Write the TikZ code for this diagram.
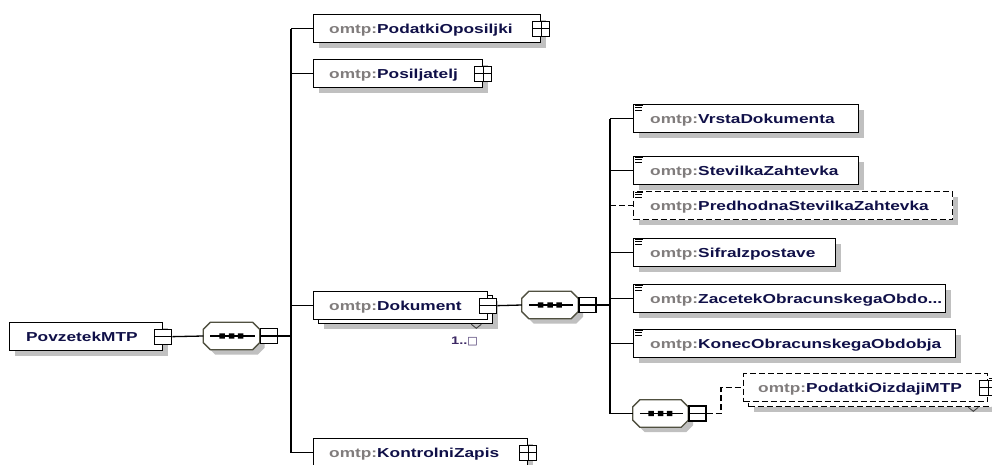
\documentclass[tikz,border=0pt]{standalone}
\usepackage{fontspec}
\newfontfamily\xsdfont[FakeStretch=1.33]{Liberation Sans}
\newfontfamily\symfont{DejaVu Sans}
\usetikzlibrary{shadows}

\definecolor{namecol}{RGB}{16,16,72}
\definecolor{pfxcol}{RGB}{128,124,124}
\definecolor{shadowcol}{RGB}{192,192,192}
\definecolor{seqedge}{RGB}{80,80,64}
\definecolor{occcol}{RGB}{60,40,100}

\newcommand\pfx[1]{\textcolor{pfxcol}{#1}}

% three short strokes in the top left corner of a simple-content element
\newcommand\textmark[1]{%
  \draw[line width=.9pt] ([xshift=2pt,yshift=-1.4pt]#1.north west) -- ++(8pt,0pt)
        ([xshift=2pt,yshift=-3.9pt]#1.north west) -- ++(7pt,0pt)
        ([xshift=2pt,yshift=-6.4pt]#1.north west) -- ++(7pt,0pt);}

% octagonal sequence compositor drawn round a plain rectangle node
\newcommand\seqshape[1]{%
  \fill[shadowcol]
    ([xshift=12pt,yshift=-5pt]#1.north west) -- ([xshift=-2pt,yshift=-5pt]#1.north east)
    -- ([xshift=5pt,yshift=-12pt]#1.north east) -- ([xshift=5pt,yshift=2pt]#1.south east)
    -- ([xshift=-2pt,yshift=-5pt]#1.south east) -- ([xshift=12pt,yshift=-5pt]#1.south west)
    -- ([xshift=5pt,yshift=2pt]#1.south west) -- ([xshift=5pt,yshift=-12pt]#1.north west)
    -- cycle;
  \draw[seqdraw]
    ([xshift=7pt]#1.north west) -- ([xshift=-7pt]#1.north east)
    -- ([yshift=-7pt]#1.north east) -- ([yshift=7pt]#1.south east)
    -- ([xshift=-7pt]#1.south east) -- ([xshift=7pt]#1.south west)
    -- ([yshift=7pt]#1.south west) -- ([yshift=-7pt]#1.north west)
    -- cycle;
  \draw[line width=1.2pt] ([xshift=7pt]#1.west) -- ([xshift=-5pt]#1.east);
  \fill ([xshift=-12.25pt,yshift=-2.6pt]#1.center) rectangle ++(5.5pt,5.2pt)
        ([xshift=-2.75pt,yshift=-2.6pt]#1.center) rectangle ++(5.5pt,5.2pt)
        ([xshift=6.25pt,yshift=-2.6pt]#1.center) rectangle ++(5.5pt,5.2pt);}

\tikzset{
  conn/.style={draw=black, line width=1.3pt},
  optconn/.style={conn, dash pattern=on 6pt off 3pt},
  boxshadow/.style={drop shadow={shadow xshift=5pt, shadow yshift=-5pt,
      opacity=1, fill=shadowcol, draw=none}},
  elbox/.style={rectangle, draw=black, line width=1.3pt, fill=white,
      inner sep=0pt, minimum height=28pt, anchor=north west},
  optbox/.style={elbox, dash pattern=on 6pt off 3pt},
  lbl/.style={inner sep=0pt, anchor=base west, text=namecol,
      font=\xsdfont\bfseries\fontsize{13}{15}\selectfont},
  occ/.style={inner sep=0pt, anchor=base west, text=occcol,
      font=\xsdfont\bfseries\fontsize{11}{13}\selectfont},
  seqnode/.style={rectangle, draw=none, inner sep=0pt,
      minimum width=56pt, minimum height=27pt},
  seqdraw/.style={draw=seqedge, line width=1.3pt, fill=white},
  iconbox/.style={rectangle, draw=black, line width=1.3pt, fill=white,
      inner sep=0pt, minimum width=17pt, minimum height=15pt},
  minusicon/.style={iconbox, path picture={
      \draw[line width=1.1pt] (path picture bounding box.west)
        -- (path picture bounding box.east);}},
  plusicon/.style={iconbox, path picture={
      \draw[line width=1.1pt] (path picture bounding box.west)
        -- (path picture bounding box.east)
        (path picture bounding box.north) -- (path picture bounding box.south);}},
}

\begin{document}
\begin{tikzpicture}[x=1pt,y=-1pt]
\clip (0,0) rectangle (992,464);
\fill[white] (0,0) rectangle (992,464);

% bus lines
\coordinate (bus1) at (291,0);
\coordinate (bus2) at (610,0);
\coordinate (jog) at (721,0);

% root element
\node[elbox, minimum width=153pt, boxshadow] (root) at (9,322) {};
\node[lbl] (root-t) at ([xshift=17pt,yshift=-4.5pt]root.west) {PovzetekMTP};
\node[minusicon] (root-i) at (root.east) {};

% first sequence
\node[seqnode] (seq1) at (231.5,336) {};
\seqshape{seq1}
\node[minusicon, anchor=west] (seq1-i) at (seq1.east) {};
\draw[conn] (root-i.east) -- (seq1.west);

% children of the first sequence
\node[elbox, minimum width=227pt, boxshadow] (pod) at (313,14) {};
\node[lbl] (pod-t) at ([xshift=16pt,yshift=-4.5pt]pod.west) {\pfx{omtp:}PodatkiOposiljki};
\node[plusicon] (pod-i) at (pod.east) {};

\node[elbox, minimum width=169pt, boxshadow] (posi) at (313,59) {};
\node[lbl] (posi-t) at ([xshift=16pt,yshift=-4.5pt]posi.west) {\pfx{omtp:}Posiljatelj};
\node[plusicon] (posi-i) at (posi.east) {};

\node[elbox, minimum width=174pt, boxshadow] (dok-b) at (318,295) {};
\node[elbox, minimum width=174pt] (dok) at (313,291) {};
\node[lbl] (dok-t) at ([xshift=16pt,yshift=-4.5pt]dok.west) {\pfx{omtp:}Dokument};
\node[minusicon] (dok-i) at (dok.east) {};
\draw[line width=.9pt, draw=black!75] ([xshift=-22pt]dok-b.south east)
  -- ++(5pt,-4pt) -- ++(5pt,4pt);
\node[occ] (dok-occ) at (451,344) {1..{\symfont\fontsize{11}{13}\selectfont □}};

\node[elbox, minimum width=214pt, boxshadow] (kz) at (313,438) {};
\node[lbl] (kz-t) at ([xshift=16pt,yshift=-4.5pt]kz.west) {\pfx{omtp:}KontrolniZapis};
\node[plusicon] (kz-i) at (kz.east) {};

\draw[conn] (seq1-i.east) -- (seq1-i.east -| bus1);
\draw[conn] (pod.west -| bus1) -- (kz.west -| bus1);
\foreach \n in {pod,posi,dok,kz}
  \draw[conn] (\n.west -| bus1) -- (\n.west);

% second sequence
\node[seqnode] (seq2) at (550,305) {};
\seqshape{seq2}
\node[minusicon, anchor=west] (seq2-i) at (seq2.east) {};
\draw[conn] (dok-i.east) -- (seq2.west);
\draw[conn] (seq2-i.east) -- (seq2-i.east -| bus2);

% children of the second sequence
\node[elbox, minimum width=225pt, boxshadow] (vrsta) at (633,104) {};
\textmark{vrsta}
\node[lbl] (vrsta-t) at ([xshift=17pt,yshift=-4.5pt]vrsta.west) {\pfx{omtp:}VrstaDokumenta};

\node[elbox, minimum width=225pt, boxshadow] (stev) at (633,156) {};
\textmark{stev}
\node[lbl] (stev-t) at ([xshift=17pt,yshift=-4.5pt]stev.west) {\pfx{omtp:}StevilkaZahtevka};

\node[optbox, minimum width=319pt, boxshadow] (pred) at (633,191) {};
\textmark{pred}
\node[lbl] (pred-t) at ([xshift=17pt,yshift=-4.5pt]pred.west) {\pfx{omtp:}PredhodnaStevilkaZahtevka};

\node[elbox, minimum width=202pt, boxshadow] (sifra) at (633,238) {};
\textmark{sifra}
\node[lbl] (sifra-t) at ([xshift=17pt,yshift=-4.5pt]sifra.west) {\pfx{omtp:}SifraIzpostave};

\node[elbox, minimum width=312pt, boxshadow] (zac) at (633,284) {};
\textmark{zac}
\node[lbl] (zac-t) at ([xshift=17pt,yshift=-4.5pt]zac.west) {\pfx{omtp:}ZacetekObracunskegaObdo...};

\node[elbox, minimum width=322pt, boxshadow] (konec) at (633,329) {};
\textmark{konec}
\node[lbl] (konec-t) at ([xshift=17pt,yshift=-4.5pt]konec.west) {\pfx{omtp:}KonecObracunskegaObdobja};

% third sequence
\node[seqnode, minimum width=55pt] (seq3) at (660.5,413.5) {};
\seqshape{seq3}
\node[minusicon, anchor=west] (seq3-i) at (seq3.east) {};

\draw[conn] (vrsta.west -| bus2) -- (seq3.west -| bus2);
\foreach \n in {vrsta,stev,sifra,zac,konec,seq3}
  \draw[conn] (\n.west -| bus2) -- (\n.west);
\draw[optconn] (pred.west -| bus2) -- (pred.west);

% optional repeated element
\node[optbox, minimum width=244pt, boxshadow] (oiz-b) at (748,378) {};
\node[optbox, minimum width=244pt] (oiz) at (743,373) {};
\node[lbl] (oiz-t) at ([xshift=15pt,yshift=-4.5pt]oiz.west) {\pfx{omtp:}PodatkiOizdajiMTP};
\node[plusicon] (oiz-i) at (oiz.east) {};
\draw[line width=.9pt, draw=black!75] ([xshift=-25pt]oiz-b.south east)
  -- ++(5pt,-4pt) -- ++(5pt,4pt);
\draw[optconn] (seq3-i.east) -- (seq3-i.east -| jog) |- (oiz.west);
\end{tikzpicture}
\end{document}
